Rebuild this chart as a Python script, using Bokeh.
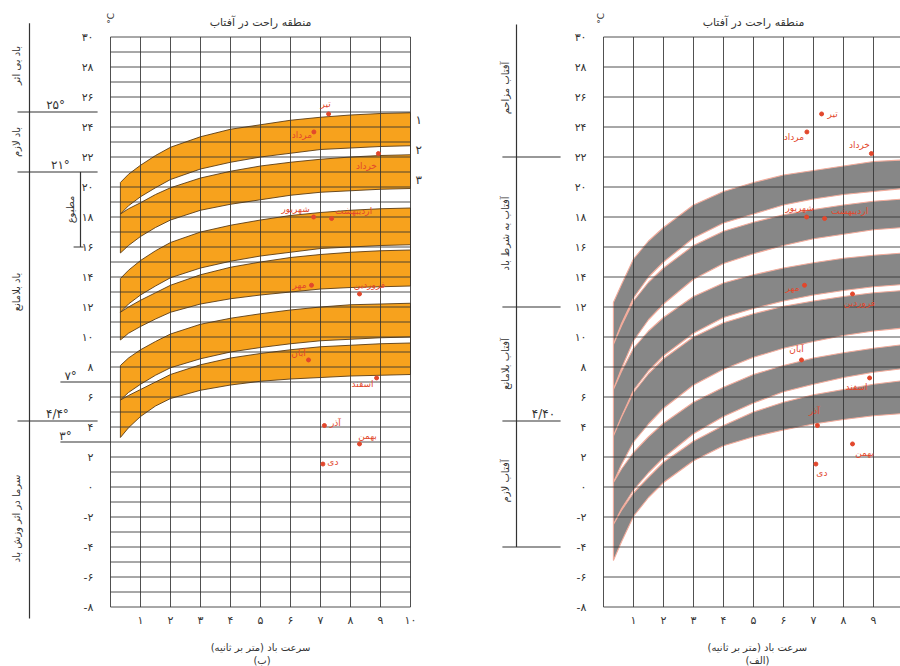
import math
from bokeh.plotting import figure
from bokeh.layouts import row
from bokeh.models import FixedTicker
from bokeh.core.properties import value
from bokeh.embed import file_html
from bokeh.resources import INLINE

FONT = "DejaVu Sans"

# ---------------- data ----------------
wind_x = [0.33, 0.6, 1, 1.5, 2, 3, 4, 5, 6, 7, 8, 9, 10]

# panel (ب) : orange comfort bands
b_pair1_top    = [20.3, 20.85, 21.45, 22.1, 22.65, 23.35, 23.85, 24.15, 24.45, 24.65, 24.8, 24.9, 24.95]
b_pair1_bottom = [15.6, 16.1, 16.7, 17.3, 17.8, 18.45, 18.85, 19.15, 19.45, 19.65, 19.75, 19.85, 19.9]
b_sliver1_up   = [18.2, 18.75, 19.35, 19.95, 20.5, 21.2, 21.65, 22.0, 22.25, 22.5, 22.6, 22.7, 22.75]
b_sliver1_low  = [18.2, 18.55, 18.95, 19.5, 19.95, 20.6, 21.05, 21.4, 21.65, 21.85, 22.0, 22.1, 22.15]
b_pair2_top    = [13.9, 14.45, 15.1, 15.75, 16.3, 17.0, 17.45, 17.8, 18.1, 18.3, 18.45, 18.55, 18.6]
b_pair2_bottom = [9.8, 10.25, 10.7, 11.2, 11.65, 12.2, 12.55, 12.8, 13.0, 13.2, 13.3, 13.35, 13.4]
b_sliver2_up   = [11.65, 12.2, 12.8, 13.4, 13.95, 14.6, 15.05, 15.4, 15.65, 15.9, 16.0, 16.1, 16.15]
b_sliver2_low  = [11.65, 12.0, 12.45, 12.95, 13.45, 14.15, 14.65, 15.0, 15.3, 15.5, 15.65, 15.75, 15.8]
b_pair3_top    = [8.1, 8.6, 9.15, 9.7, 10.2, 10.85, 11.25, 11.55, 11.8, 12.0, 12.15, 12.2, 12.25]
b_pair3_bottom = [3.3, 3.95, 4.7, 5.4, 5.9, 6.45, 6.8, 7.05, 7.2, 7.3, 7.4, 7.45, 7.5]
b_sliver3_up   = [5.8, 6.3, 6.85, 7.45, 7.95, 8.55, 9.0, 9.3, 9.55, 9.75, 9.85, 9.95, 10.0]
b_sliver3_low  = [5.8, 6.1, 6.5, 7.0, 7.5, 8.15, 8.6, 8.9, 9.15, 9.35, 9.45, 9.55, 9.6]

# panel (الف) : grey comfort bands
a_stack_top    = [12.3, 13.5, 15.2, 16.4, 17.3, 18.8, 19.7, 20.3, 20.8, 21.1, 21.4, 21.7, 21.8]
a_stack_bottom = [-4.9, -3.65, -1.95, -0.7, 0.3, 1.75, 2.75, 3.35, 3.8, 4.2, 4.5, 4.75, 4.9]
a_gap1_up  = [9.5, 10.9, 12.6, 14.0, 15.0, 16.6, 17.6, 18.2, 18.8, 19.2, 19.5, 19.7, 19.9]
a_gap1_low = [9.5, 10.75, 12.4, 13.65, 14.6, 16.1, 17.05, 17.65, 18.15, 18.5, 18.8, 19.05, 19.2]
a_gap2_up  = [6.5, 7.9, 9.75, 11.15, 12.2, 13.85, 14.9, 15.55, 16.1, 16.55, 16.85, 17.15, 17.3]
a_gap2_low = [6.5, 7.7, 9.25, 10.4, 11.3, 12.7, 13.6, 14.15, 14.6, 14.95, 15.25, 15.45, 15.6]
a_gap3_up  = [3.4, 4.7, 6.45, 7.75, 8.75, 10.25, 11.3, 11.9, 12.4, 12.8, 13.1, 13.35, 13.5]
a_gap3_low = [3.4, 4.65, 6.3, 7.55, 8.55, 10.0, 10.95, 11.55, 12.05, 12.4, 12.7, 12.95, 13.1]
a_gap4_up  = [0.3, 1.5, 3.0, 4.2, 5.25, 6.8, 7.85, 8.65, 9.25, 9.7, 10.1, 10.4, 10.6]
a_gap4_low = [0.3, 1.2, 2.3, 3.35, 4.25, 5.65, 6.65, 7.5, 8.1, 8.6, 8.95, 9.25, 9.5]
a_gap5_up  = [-2.5, -1.45, -0.2, 0.95, 1.95, 3.55, 4.7, 5.6, 6.35, 6.85, 7.3, 7.65, 7.9]
a_gap5_low = [-2.5, -1.55, -0.4, 0.65, 1.65, 3.05, 4.1, 5.0, 5.65, 6.15, 6.5, 6.85, 7.1]

# monthly climate points (wind speed m/s, temperature C)
months     = ["تیر", "مرداد", "خرداد", "شهریور", "اردیبهشت", "مهر", "فروردین", "آبان", "اسفند", "آذر", "بهمن", "دی"]
month_wind = [7.27, 6.78, 8.93, 6.77, 7.37, 6.7, 8.3, 6.6, 8.87, 7.13, 8.3, 7.08]
month_temp = [24.87, 23.67, 22.23, 18.0, 17.9, 13.45, 12.87, 8.47, 7.27, 4.1, 2.87, 1.53]

# axes
y_tick_values = [30, 28, 26, 24, 22, 20, 18, 16, 14, 12, 10, 8, 6, 4, 2, 0, -2, -4, -6, -8]
y_tick_labels = ["۳۰", "۲۸", "۲۶", "۲۴", "۲۲", "۲۰", "۱۸", "۱۶", "۱۴", "۱۲", "۱۰",
                 "۸", "۶", "۴", "۲", "۰", "-۲", "-۴", "-۶", "-۸"]
x_tick_values = [1, 2, 3, 4, 5, 6, 7, 8, 9, 10]
x_tick_labels = ["۱", "۲", "۳", "۴", "۵", "۶", "۷", "۸", "۹", "۱۰"]
b_grid_y = list(range(-8, 31, 1))
a_grid_y = list(range(-8, 31, 2))
grid_x = list(range(0, 11))

# zone annotations
b_zone_names = ["باد بی اثر", "باد لازم", "باد بلامانع", "سرما در اثر وزش باد"]
b_zone_centers = [28.1, 23.0, 13.0, -2.1]
b_zone_limits = [25, 21, 4.4]
b_zone_limit_labels = ["۲۵°", "۲۱°", "۴/۴°"]
b_short_limits = [7, 3]
b_short_limit_labels = ["۷°", "۳°"]
a_zone_names = ["آفتاب مزاحم", "آفتاب به شرط باد", "آفتاب بلامانع", "آفتاب لازم"]
a_zone_centers = [26.6, 16.9, 8.2, 0.4]
a_zone_limits = [22, 12, 4.4, -4]
a_zone_limit_labels = ["", "", "۴/۴۰", ""]
curve_numbers = ["۱", "۲", "۳"]
curve_number_y = [24.5, 22.5, 20.5]

TITLE = "منطقه راحت در آفتاب"
XLABEL = "سرعت باد (متر بر ثانیه)"

# ---------------- styles ----------------
W, H = 450, 666
Y1 = 30 + 36.5 / 15
Y0 = Y1 - H / 15
ORANGE = "#F7A21D"
BROWN = "#5b3c14"
GREY = "#878787"
PINK = "#f2ab9b"
GRID = "#333333"
RED = "#e2472c"
TXT = "#333333"

b_dx = [-3, -12, -12, -18, 22, -12, 10, -10, -14, 11, 8, 10]
b_dy = [-10, 3, 12, -8, -8, 0, -9, -7, 6, -3, -8, -2]
a_dx = [11, -13, -12, -7, 25, -12, 7, -5, -13, -3, 12, 6]
a_dy = [0, 5, -9, -9, -8, 3, 9, -11, 9, -15, 9, 9]


def make_fig(x0):
    p = figure(width=W, height=H, x_range=(x0, x0 + W / 30), y_range=(Y0, Y1),
               output_backend="svg", toolbar_location=None, min_border=0)
    p.outline_line_color = None
    p.grid.visible = False
    p.yaxis.fixed_location = 0
    p.xaxis.fixed_location = -8
    p.yaxis.ticker = FixedTicker(ticks=y_tick_values)
    p.xaxis.ticker = FixedTicker(ticks=x_tick_values)
    p.yaxis.major_label_overrides = dict(zip(y_tick_values, y_tick_labels))
    p.xaxis.major_label_overrides = dict(zip(x_tick_values, x_tick_labels))
    for ax in (p.xaxis, p.yaxis):
        ax.axis_line_color = None
        ax.major_tick_line_color = None
        ax.minor_tick_line_color = None
        ax.major_label_text_font = FONT
        ax.major_label_text_font_size = "11px"
        ax.major_label_text_color = TXT
    p.yaxis.major_label_standoff = 11
    p.xaxis.major_label_standoff = 1
    return p


def band(p, top, bottom, fill, line, lw=0.9):
    p.patch(wind_x + wind_x[::-1], top + bottom[::-1], fill_color=fill,
            line_color=line, line_width=lw)


def grid(p, gy):
    p.segment(x0=[0] * len(gy), y0=gy, x1=[10] * len(gy), y1=gy,
              line_color=GRID, line_width=1, line_alpha=0.85)
    p.segment(x0=grid_x, y0=[-8] * len(grid_x), x1=grid_x, y1=[30] * len(grid_x),
              line_color=GRID, line_width=1, line_alpha=0.85)


def texts(p, x, y, t, size="10px", color=TXT, angle=0, align="center", **kw):
    p.text(x=x, y=y, text=t, angle=angle, text_align=align, text_baseline="middle",
           text_font=value(FONT), text_font_size=size, text_color=color, **kw)


def lines(p, xs, ys, color=TXT, width=1.2):
    p.multi_line(xs=xs, ys=ys, line_color=color, line_width=width)


# ================= panel (ب) left =================
pb = make_fig(-110 / 30)
band(pb, b_pair1_top, b_pair1_bottom, ORANGE, BROWN)
band(pb, b_pair2_top, b_pair2_bottom, ORANGE, BROWN)
band(pb, b_pair3_top, b_pair3_bottom, ORANGE, BROWN)
band(pb, b_sliver1_up, b_sliver1_low, "white", BROWN)
band(pb, b_sliver2_up, b_sliver2_low, "white", BROWN)
band(pb, b_sliver3_up, b_sliver3_low, "white", BROWN)
grid(pb, b_grid_y)
pb.scatter(month_wind, month_temp, size=4, color=RED)
texts(pb, month_wind, month_temp, months, size="9px", color=RED, x_offset=b_dx, y_offset=b_dy)
texts(pb, [10.27] * 3, curve_number_y, curve_numbers, size="12px")
texts(pb, [5.0], [30.97], [TITLE], size="11px")
texts(pb, [0.0], [31.25], ["°C"], size="9px", angle=math.pi / 2)
texts(pb, [5.0], [-10.7], [XLABEL], size="10px")
texts(pb, [5.05], [-11.55], ["(ب)"], size="10px")
# zone guide
lines(pb, [[-2.7, -2.7]], [[30.92, -8.77]])
lines(pb, [[-3.1, -0.43]] * len(b_zone_limits), [[v, v] for v in b_zone_limits])
lines(pb, [[-1.67, 0]] * len(b_short_limits), [[v, v] for v in b_short_limits])
lines(pb, [[-1.0, -1.0], [-1.23, -0.9]], [[21, 16], [16, 16]])
texts(pb, [-3.12] * 4, b_zone_centers, b_zone_names, size="10px", angle=math.pi / 2)
texts(pb, [-1.05], [18.5], ["مطبوع"], size="10px", angle=math.pi / 2, x_offset=[-9])
texts(pb, [-1.83, -1.67, -1.77], [v + 0.45 for v in b_zone_limits], b_zone_limit_labels, size="12px")
texts(pb, [-1.33, -1.5], [v + 0.4 for v in b_short_limits], b_short_limit_labels, size="12px")

# ================= panel (الف) right =================
pa = make_fig(-153 / 30)
band(pa, a_stack_top, a_stack_bottom, GREY, PINK, 1.1)
band(pa, a_gap1_up, a_gap1_low, "white", PINK, 1.1)
band(pa, a_gap2_up, a_gap2_low, "white", PINK, 1.1)
band(pa, a_gap3_up, a_gap3_low, "white", PINK, 1.1)
band(pa, a_gap4_up, a_gap4_low, "white", PINK, 1.1)
band(pa, a_gap5_up, a_gap5_low, "white", PINK, 1.1)
grid(pa, a_grid_y)
pa.scatter(month_wind, month_temp, size=4, color=RED)
texts(pa, month_wind, month_temp, months, size="9px", color=RED, x_offset=a_dx, y_offset=a_dy)
texts(pa, [5.0], [30.97], [TITLE], size="11px")
texts(pa, [-0.1], [31.25], ["°C"], size="9px", angle=math.pi / 2)
texts(pa, [5.13], [-10.7], [XLABEL], size="10px")
texts(pa, [5.13], [-11.55], ["(الف)"], size="10px")
lines(pa, [[-2.9, -2.9]], [[30.83, -4.0]])
lines(pa, [[-3.37, -1.43]] * len(a_zone_limits), [[v, v] for v in a_zone_limits])
texts(pa, [-3.27] * 4, a_zone_centers, a_zone_names, size="10px", angle=math.pi / 2)
texts(pa, [-2.0] * 4, [v + 0.45 for v in a_zone_limits], a_zone_limit_labels, size="12px")

layout = row(pb, pa)
open("out.html", "w").write(file_html(layout, INLINE))
